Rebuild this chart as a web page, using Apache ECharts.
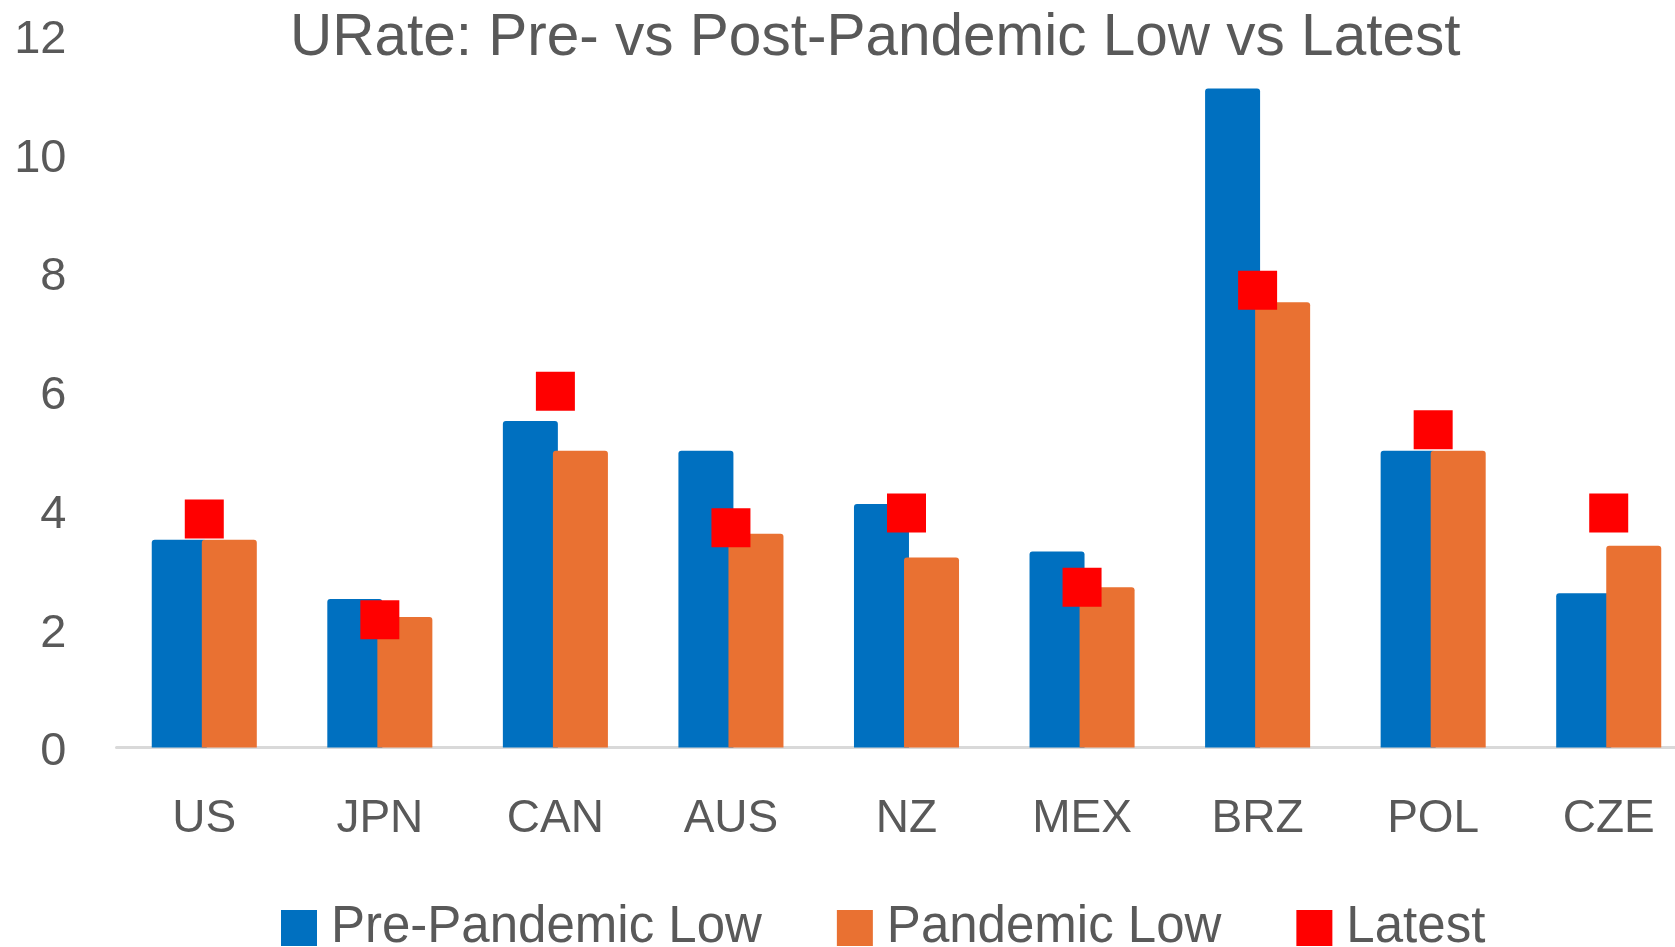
<!DOCTYPE html>
<html>
<head>
<meta charset="utf-8">
<title>URate: Pre- vs Post-Pandemic Low vs Latest</title>
<script src="https://cdn.jsdelivr.net/npm/echarts@6/dist/echarts.min.js"></script>
<style>
  html, body { margin: 0; padding: 0; background: #ffffff; }
  #chart { width: 1675px; height: 947px; }
</style>
</head>
<body>
<div id="chart"></div>
<script>
// Unemployment rates (%) by country
const categories = ['US', 'JPN', 'CAN', 'AUS', 'NZ', 'MEX', 'BRZ', 'POL', 'CZE'];
const preLow = [3.5, 2.5, 5.5, 5.0, 4.1, 3.3, 11.1, 5.0, 2.6];
const pandemicLow = [3.5, 2.2, 5.0, 3.6, 3.2, 2.7, 7.5, 5.0, 3.4];
const latest = [3.85, 2.15, 6.0, 3.7, 3.95, 2.7, 7.7, 5.35, 3.95];
const yTicks = [0, 2, 4, 6, 8, 10, 12];

const FONT = 'Liberation Sans, Arial, sans-serif';
const GREY = '#595959';

const chart = echarts.init(document.getElementById('chart'), null, { renderer: 'canvas' });

chart.setOption({
  animation: false,
  backgroundColor: '#ffffff',
  title: {
    text: 'URate: Pre- vs Post-Pandemic Low vs Latest',
    left: 290,
    top: 10,
    padding: 0,
    textStyle: { fontFamily: FONT, fontSize: 58.5, fontWeight: 'normal', color: GREY, lineHeight: 58 }
  },
  legend: {
    left: 281,
    top: 900,
    padding: 0,
    itemWidth: 36,
    itemHeight: 36,
    itemGap: 75,
    icon: 'rect',
    data: ['Pre-Pandemic Low', 'Pandemic Low', 'Latest'],
    textStyle: { fontFamily: FONT, fontSize: 51, color: GREY, lineHeight: 56, padding: [0, 0, 0, 9] }
  },
  // the plot runs a little past the right edge of the canvas
  grid: {
    left: 116.5, width: 1580, top: 35, bottom: 199.5,
    containLabel: false, outerBoundsMode: 'none'
  },
  xAxis: {
    type: 'category',
    data: categories,
    axisLine: { show: true, lineStyle: { color: '#D9D9D9', width: 3 } },
    axisTick: { show: false },
    axisLabel: { fontFamily: FONT, fontSize: 46, color: GREY, margin: 49, lineHeight: 46 },
    splitLine: { show: false }
  },
  yAxis: {
    type: 'value',
    min: yTicks[0],
    max: yTicks[yTicks.length - 1],
    interval: yTicks[1] - yTicks[0],
    axisLine: { show: false },
    axisTick: { show: false },
    splitLine: { show: false },
    axisLabel: {
      margin: 50,
      formatter: '{v|{value}}',
      rich: { v: { fontFamily: FONT, fontSize: 47, color: GREY, padding: [10, 0, 0, 0] } }
    }
  },
  series: [
    {
      name: 'Pre-Pandemic Low',
      type: 'bar',
      data: preLow,
      barWidth: 55,
      barGap: '-9%',
      itemStyle: { color: '#0070C0', borderRadius: [3, 3, 0, 0] }
    },
    {
      name: 'Pandemic Low',
      type: 'bar',
      data: pandemicLow,
      barWidth: 55,
      barGap: '-9%',
      itemStyle: { color: '#E97132', borderRadius: [3, 3, 0, 0] }
    },
    {
      name: 'Latest',
      type: 'scatter',
      data: latest,
      symbol: 'rect',
      symbolSize: 39,
      itemStyle: { color: '#FF0000', opacity: 1 },
      emphasis: { disabled: true },
      z: 5
    }
  ]
});
</script>
</body>
</html>
